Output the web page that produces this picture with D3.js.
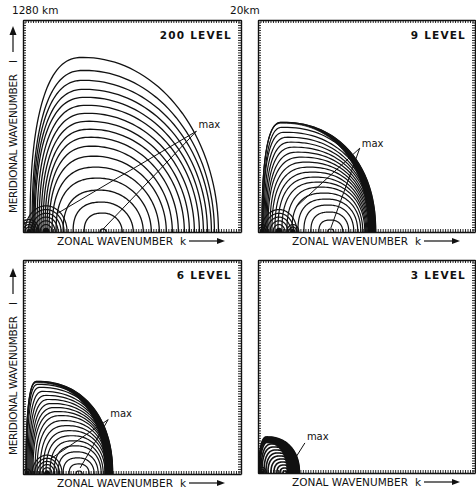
<!DOCTYPE html>
<html>
<head>
<meta charset="utf-8">
<script src="https://cdn.jsdelivr.net/npm/d3@7"></script>
<style>
  body { margin: 0; background: #fff; }
  text { font-family: "DejaVu Sans", sans-serif; fill: #111; }
</style>
</head>
<body>
<svg id="fig" width="476" height="491"></svg>
<script>
// wavenumber index range on each axis
const kMax = 87, lMax = 85;
const levels = ["200 LEVEL", "9 LEVEL", "6 LEVEL", "3 LEVEL"];

// contours, innermost to outermost: left foot, peak position, right foot (k) and height (l)
const lev200Left  = [30.8, 24.4, 20, 16, 13.2, 11.6, 10.4, 9.6, 8.8, 8, 7.2, 6.4, 5.6, 4.8, 4.4, 4, 3.6, 2.8];
const lev200Peak  = [32, 32, 31.6, 30.8, 30, 29.2, 28.4, 27.6, 27.2, 26.8, 26.4, 26, 25.6, 25.2, 24.8, 24.4, 24.4, 24];
const lev200Right = [33.2, 39.6, 44, 48, 51.2, 54.4, 57.2, 59.6, 62, 64.4, 66.4, 68.4, 70.4, 72, 73.6, 75.2, 76.4, 78];
const lev200Top   = [1.2, 7.6, 12, 16.8, 21.6, 26, 30.4, 34.4, 38, 41.2, 44.4, 47.6, 50.8, 54, 57.2, 60.8, 64.8, 70];

const lev9Left  = [28, 24.4, 21.2, 18.4, 16, 13.6, 11.6, 9.6, 8, 6.8, 5.6, 4.8, 4, 3.6, 3.2, 2.8, 2.4, 2, 2, 1.6];
const lev9Peak  = [29.2, 29.2, 28.8, 28.4, 27.6, 26.8, 25.6, 24.4, 23.2, 22, 20.8, 19.2, 17.6, 16, 14.4, 13.2, 12, 10.8, 10, 9.6];
const lev9Right = [30.4, 34, 36.4, 38.4, 40, 41.2, 42, 42.8, 43.2, 43.6, 44, 44.4, 44.8, 45.2, 45.6, 45.8, 46, 46.4, 46.8, 47.2];
const lev9Top   = [1.2, 4.8, 8, 10.8, 13.2, 15.6, 18, 20, 22, 24, 26, 28, 30, 32, 34, 36, 38, 40, 42, 44];

const lev6Left  = [21.2, 18.4, 16, 14, 12.4, 10.8, 9.2, 8, 6.8, 5.6, 4.8, 4, 3.6, 3.2, 2.8, 2.4, 2, 1.6, 1.4, 1.2];
const lev6Peak  = [22.4, 22.4, 22, 21.6, 21.2, 20.4, 19.6, 18.8, 17.6, 16.4, 15.2, 14, 12.8, 11.6, 10.4, 9.2, 8, 6.8, 6, 5.6];
const lev6Right = [23.6, 26.4, 28.4, 30, 31.2, 32, 32.8, 33.4, 33.8, 34.2, 34.4, 34.6, 34.8, 35, 35.2, 35.3, 35.4, 35.6, 35.7, 35.8];
const lev6Top   = [1.2, 4, 6.4, 8.8, 11.2, 13.2, 15.2, 17.2, 19.2, 21.2, 23.2, 24.8, 26.4, 28, 29.6, 31.2, 32.8, 34.4, 35.6, 36.8];

const lev3Left  = [10, 8.8, 7.6, 6.4, 5.2, 4, 3.2, 2.4, 1.6, 1.2, 0.8, 0.6, 0.4];
const lev3Peak  = [10.8, 10.8, 10.4, 10, 9.6, 8.8, 8, 7.2, 6.4, 5.6, 4.8, 4, 3.6];
const lev3Right = [11.6, 12.4, 13.2, 13.8, 14.4, 14.8, 15.2, 15.6, 15.8, 16, 16.2, 16.4, 16.6];
const lev3Top   = [0.8, 2, 3.2, 4.4, 5.6, 6.8, 8, 9.2, 10.4, 11.6, 12.8, 13.6, 14.4];

// dense outer band: [width at right foot, depth at top]
const bands = [[0, 0], [3, 0.35], [3.2, 0.5], [5, 2.4]];

// small-scale rings near the origin: centres (k) and radii
const ringCentres = [[2.4, 9.2], [1.6, 8.4, 14], [1.6, 9.6], [1.6]];
const ringRadii = [
  [[0.8, 1.6, 2.4, 3.2, 4], [1.2, 2.4, 3.6, 4.8, 6, 7.2, 8.4]],
  [[0.8, 1.6, 2.4], [1.2, 2.4, 3.6, 4.8, 6, 7.2], [0.8, 1.6, 2.4]],
  [[0.8, 1.6], [1, 2, 3, 4, 5, 6]],
  [[0.6, 1.2, 1.8]]
];

// "max" labels: text position, leader start, leader ends
const maxText  = [[70, 41.6], [41.6, 34], [34.8, 22.8], [19.6, 13.2]];
const maxFrom  = [[69.2, 40.4], [40.8, 33.6], [34, 21.6], [18.8, 12]];
const maxTo = [
  [[32, 1.2], [14, 7.6]],
  [[29.2, 1.6], [15.2, 10]],
  [[22.8, 2.4], [11.6, 6.4]],
  [[14, 4.4]]
];

const contourSets = [
  [lev200Left, lev200Peak, lev200Right, lev200Top],
  [lev9Left, lev9Peak, lev9Right, lev9Top],
  [lev6Left, lev6Peak, lev6Right, lev6Top],
  [lev3Left, lev3Peak, lev3Right, lev3Top]
];
const shapes = [[2.5, 2.0], [2.6, 2.2], [2.6, 2.2], [2.5, 2.2]];
const strokeW = [1.3, 1.2, 1.2, 1.6];

const frames = [
  { x: 23, y: 20, w: 218, h: 212 },
  { x: 258, y: 20, w: 217, h: 212 },
  { x: 23, y: 260, w: 218, h: 214 },
  { x: 258, y: 260, w: 217, h: 213 }
];

const svg = d3.select("#fig");

// quarter superellipses joined at the peak
function lobe(kl, kp, kr, h, pL, pR) {
  const pts = [], n = 40;
  for (let i = 0; i <= n; i++) {
    const t = (Math.PI / 2) * i / n;
    pts.push([kp - (kp - kl) * Math.pow(Math.cos(t), 2 / pL), h * Math.pow(Math.sin(t), 2 / pL)]);
  }
  for (let i = n - 1; i >= 0; i--) {
    const t = (Math.PI / 2) * i / n;
    pts.push([kp + (kr - kp) * Math.pow(Math.cos(t), 2 / pR), h * Math.pow(Math.sin(t), 2 / pR)]);
  }
  return pts;
}

function drawPanel(i) {
  const f = frames[i];
  const [pL, pR] = shapes[i];
  const [cl, cp, cr, ct] = contourSets[i];
  const g = svg.append("g").attr("transform", `translate(${f.x},${f.y})`);

  const x = d3.scaleLinear().domain([0, kMax]).range([0, f.w]);
  const y = d3.scaleLinear().domain([0, lMax]).range([f.h, 0]);
  const line = d3.line().x(d => x(d[0])).y(d => y(d[1]));

  g.append("clipPath").attr("id", "clip" + i)
    .append("rect").attr("width", f.w).attr("height", f.h);
  const plot = g.append("g").attr("clip-path", `url(#clip${i})`);

  // contours
  plot.selectAll("path.c")
    .data(d3.range(cl.length))
    .join("path")
    .attr("class", "c")
    .attr("d", j => line(lobe(cl[j], cp[j], cr[j], ct[j], pL, pR)))
    .attr("fill", "none")
    .attr("stroke", "#111")
    .attr("stroke-width", strokeW[i]);

  // dense band on the outer edge
  const [bw, bh] = bands[i];
  if (bw > 0) {
    const o = cl.length - 1;
    const outer = lobe(cl[o], cp[o], cr[o], ct[o], pL, pR);
    const inner = lobe(cl[o], cp[o], cr[o] - bw, ct[o] - bh, pL, pR).reverse();
    plot.append("path")
      .attr("d", line(outer.concat(inner)) + "Z")
      .attr("fill", "#111")
      .attr("stroke", "#111")
      .attr("stroke-width", 0.8);
  }

  // small rings near the origin
  ringCentres[i].forEach((c, m) => {
    plot.append("g").selectAll("path")
      .data(ringRadii[i][m])
      .join("path")
      .attr("d", r => line(lobe(c - r, c, c + r, r * 1.25, 2, 2)))
      .attr("fill", (r, n) => n === 0 ? "#111" : "none")
      .attr("stroke", "#111")
      .attr("stroke-width", 1.2);
  });

  // "max" annotation
  maxTo[i].forEach(p => {
    plot.append("line")
      .attr("x1", x(maxFrom[i][0])).attr("y1", y(maxFrom[i][1]))
      .attr("x2", x(p[0])).attr("y2", y(p[1]))
      .attr("stroke", "#111").attr("stroke-width", 1);
  });
  g.append("text")
    .attr("x", x(maxText[i][0])).attr("y", y(maxText[i][1]))
    .attr("font-size", 10)
    .text("max");

  // ruled frame, one tick per wavenumber
  const kTicks = d3.range(0, kMax + 1), lTicks = d3.range(0, lMax + 1);
  const axes = [
    [d3.axisBottom(x).tickValues(kTicks), `translate(0,${f.h})`],
    [d3.axisTop(x).tickValues(kTicks), "translate(0,0)"],
    [d3.axisLeft(y).tickValues(lTicks), "translate(0,0)"],
    [d3.axisRight(y).tickValues(lTicks), `translate(${f.w},0)`]
  ];
  axes.forEach(([ax, tr]) => {
    const a = g.append("g").attr("transform", tr)
      .call(ax.tickSize(-3).tickSizeOuter(0).tickFormat(""));
    a.select(".domain").attr("stroke", "#111").attr("stroke-width", 1.4);
    a.selectAll(".tick line").attr("stroke", "#111").attr("stroke-width", 0.9);
  });

  // level title
  g.append("text")
    .attr("x", f.w - 9).attr("y", 19)
    .attr("text-anchor", "end")
    .attr("font-size", 10.5)
    .attr("font-weight", "bold")
    .attr("letter-spacing", 1.2)
    .text(levels[i]);

  // zonal axis label with arrow
  const by = f.h + 13;
  g.append("text")
    .attr("x", 34).attr("y", by)
    .attr("font-size", 10.5)
    .attr("textLength", 116).attr("lengthAdjust", "spacing")
    .text("ZONAL WAVENUMBER");
  g.append("text")
    .attr("x", 157).attr("y", by)
    .attr("font-size", 10.5)
    .text("k");
  g.append("line")
    .attr("x1", 166).attr("x2", 194).attr("y1", by - 4).attr("y2", by - 4)
    .attr("stroke", "#111").attr("stroke-width", 1.2);
  g.append("path")
    .attr("d", `M${194},${by - 7}L${202},${by - 4}L${194},${by - 1}Z`)
    .attr("fill", "#111");

  // meridional axis label with arrow (left column only)
  if (i % 2 === 0) {
    const lg = g.append("g").attr("transform", `translate(-6,${f.h - 19}) rotate(-90)`);
    lg.append("text")
      .attr("x", 0).attr("y", 0)
      .attr("font-size", 10.5)
      .attr("textLength", 139).attr("lengthAdjust", "spacing")
      .text("MERIDIONAL WAVENUMBER");
    lg.append("text")
      .attr("x", 150).attr("y", 0)
      .attr("font-size", 10.5)
      .text("l");
    lg.append("line")
      .attr("x1", 161).attr("x2", 178).attr("y1", -4).attr("y2", -4)
      .attr("stroke", "#111").attr("stroke-width", 1.2);
    lg.append("path")
      .attr("d", "M178,-7.5L187,-4L178,-0.5Z")
      .attr("fill", "#111");
  }
}

frames.forEach((f, i) => drawPanel(i));

// wavelength marks along the top
svg.append("text").attr("x", 12).attr("y", 14).attr("font-size", 10.5).text("1280 km");
svg.append("text").attr("x", 230).attr("y", 14).attr("font-size", 10.5).text("20km");
</script>
</body>
</html>
